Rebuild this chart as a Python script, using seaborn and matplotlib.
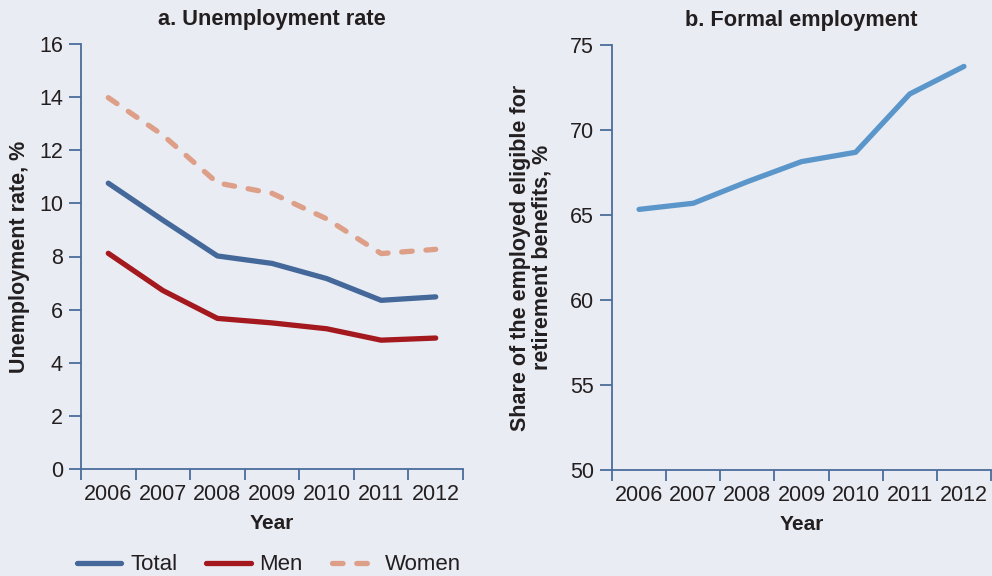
import numpy as np
import pandas as pd
import matplotlib
matplotlib.use("Agg")
import matplotlib.pyplot as plt
import seaborn as sns
from matplotlib.ticker import FixedLocator, NullFormatter, FixedFormatter

years = ["2006", "2007", "2008", "2009", "2010", "2011", "2012"]
total = [10.76, 9.37, 8.02, 7.74, 7.17, 6.35, 6.48]
men = [8.12, 6.72, 5.67, 5.50, 5.28, 4.85, 4.93]
women = [13.98, 12.57, 10.77, 10.38, 9.42, 8.11, 8.27]
formal = [65.33, 65.69, 66.96, 68.14, 68.69, 72.12, 73.74]

BG = "#E9ECF3"
SPINE = "#4A6C9B"
TXT = "#231F20"
C_TOTAL = "#44689A"
C_MEN = "#A3191E"
C_WOMEN = "#DE9F89"
C_FORMAL = "#5B96CB"

sns.set_theme(style="white")
plt.rcParams["font.family"] = ["Liberation Sans", "DejaVu Sans"]

fig = plt.figure(figsize=(9.92, 5.76), dpi=100, facecolor=BG)
ax1 = fig.add_axes([81/992, 1-469/576, 382/992, 425/576])
ax2 = fig.add_axes([612/992, 1-470/576, 379/992, 425/576])

x = np.arange(len(years))
lw = 3.8
for name, col, vals in [("Total", C_TOTAL, total), ("Men", C_MEN, men), ("Women", C_WOMEN, women)]:
    sub = pd.DataFrame({"x": x, "val": vals})
    sns.lineplot(data=sub, x="x", y="val", ax=ax1, color=col, lw=lw, label=name,
                 solid_capstyle="round", solid_joinstyle="round")
wline = ax1.get_lines()[2]
wline.set_dashes((2.0, 2.6))
wline.set_dash_capstyle("round")

sub = pd.DataFrame({"x": x, "val": formal})
sns.lineplot(data=sub, x="x", y="val", ax=ax2, color=C_FORMAL, lw=lw,
             solid_capstyle="round", solid_joinstyle="round")

def style(ax, ylim, yticks, ylabel, title):
    ax.set_facecolor(BG)
    ax.set_xlim(-0.5, 6.5)
    ax.set_ylim(*ylim)
    for s in ["top", "right"]:
        ax.spines[s].set_visible(False)
    for s in ["left", "bottom"]:
        ax.spines[s].set_color(SPINE)
        ax.spines[s].set_linewidth(1.3)
    ax.xaxis.set_major_locator(FixedLocator(np.arange(-0.5, 7, 1.0)))
    ax.xaxis.set_major_formatter(NullFormatter())
    ax.xaxis.set_minor_locator(FixedLocator(x))
    ax.xaxis.set_minor_formatter(FixedFormatter(years))
    ax.tick_params(axis="x", which="major", direction="out", length=8, width=1.3,
                   color=SPINE, bottom=True)
    ax.tick_params(axis="x", which="minor", length=0, labelsize=15.5, labelcolor=TXT, pad=11, bottom=True)
    ax.set_yticks(yticks)
    ax.set_yticklabels([str(v) for v in yticks])
    ax.tick_params(axis="y", direction="out", length=9, width=1.3, color=SPINE,
                   labelsize=15.5, labelcolor=TXT, pad=4, left=True)
    ax.set_xlabel("Year", fontsize=15, fontweight="bold", color=TXT, labelpad=6)
    ax.set_ylabel(ylabel, fontsize=15.5, fontweight="bold", color=TXT, linespacing=1.0)
    ax.set_title(title, fontsize=15.7, fontweight="bold", color=TXT, pad=14)
    ax.grid(False)

style(ax1, (0, 16), list(range(0, 17, 2)), "Unemployment rate, %", "a. Unemployment rate")
style(ax2, (50, 75), list(range(50, 76, 5)),
      "Share of the employed eligible for\nretirement benefits, %", "b. Formal employment")
ax1.yaxis.set_label_coords(-0.133, 0.5)
ax2.yaxis.set_label_coords(-0.157, 0.5)

if ax1.get_legend():
    ax1.get_legend().remove()
handles, labels = ax1.get_legend_handles_labels()
leg = fig.legend(handles, labels, loc="center", bbox_to_anchor=(269/992, 1-565/576), ncol=3,
                 frameon=False, fontsize=16, handlelength=2.0, handletextpad=0.4,
                 columnspacing=1.3, labelcolor=TXT)
fig.savefig("out.png", dpi=100, facecolor=BG)
